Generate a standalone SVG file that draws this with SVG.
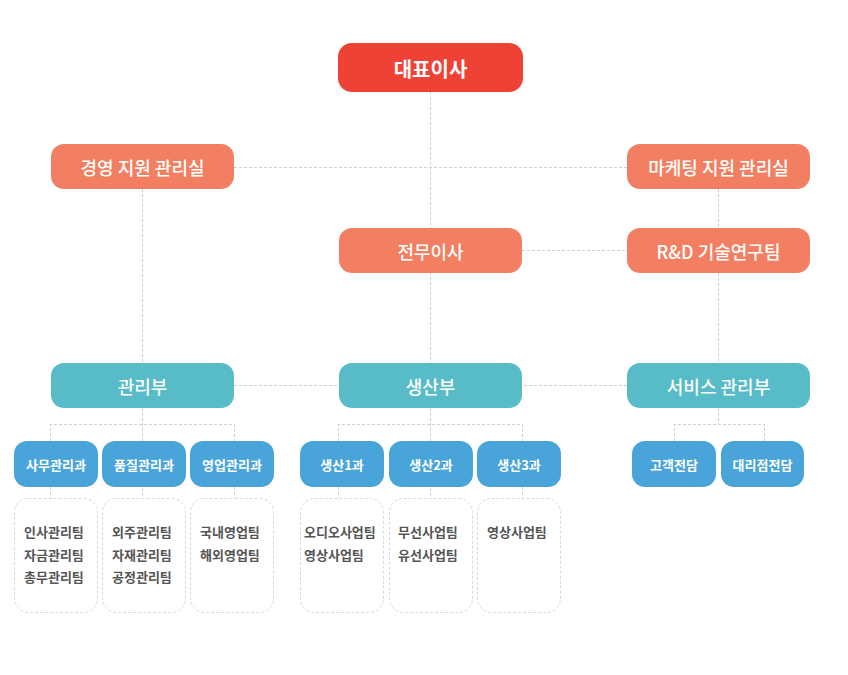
<svg xmlns="http://www.w3.org/2000/svg" width="848" height="675" viewBox="0 0 848 675">
<style>
text{font-family:"Noto Sans CJK KR","Noto Sans",sans-serif;text-anchor:middle;dominant-baseline:central}
.ceo{fill:#EF4237}
.org{fill:#F37F62}
.teal{fill:#57BCC7}
.blue{fill:#49A4DA}
.team{fill:#fff;stroke:#d9d9d9;stroke-width:1;stroke-dasharray:3 2}
.t1{fill:#fff;font-size:20px;font-weight:700}
.t2{fill:#fff;font-size:18px;font-weight:500}
.t3{fill:#fff;font-size:13px;font-weight:700}
.t4{fill:#555;font-size:13px;font-weight:700;text-anchor:start}
#connectors path{fill:none;stroke:#cfcfcf;stroke-width:1;stroke-dasharray:3 2}
</style>
<rect width="848" height="675" fill="#fff"/>
<g id="connectors">
<path d="M430.5 92V363"/>
<path d="M234 167.5H627"/>
<path d="M522 250.5H627"/>
<path d="M718.5 189V228M718.5 273V363"/>
<path d="M142.5 189V363"/>
<path d="M234 385.5H627"/>
<path d="M142.5 408V498M50.5 441V424.5H234.5V441M50.5 487V498M234.5 487V498"/>
<path d="M430.5 408V498M338.5 441V424.5H522.5V441M338.5 487V498M522.5 487V498"/>
<path d="M718.5 408V424.5M674.5 441V424.5H764.5V441"/>
</g>
<g id="n-ceo"><rect class="ceo" x="338" y="43" width="185" height="49" rx="14"/><text class="t1" x="430.5" y="68">대표이사</text></g>
<g id="n-mgmt-support"><rect class="org" x="51" y="144" width="183" height="45" rx="13"/><text class="t2" x="142.5" y="166.5">경영 지원 관리실</text></g>
<g id="n-mkt-support"><rect class="org" x="627" y="144" width="183" height="45" rx="13"/><text class="t2" x="718.5" y="166.5">마케팅 지원 관리실</text></g>
<g id="n-exec"><rect class="org" x="339" y="228" width="183" height="45" rx="13"/><text class="t2" x="430.5" y="250.5">전무이사</text></g>
<g id="n-rnd"><rect class="org" x="627" y="228" width="183" height="45" rx="13"/><text class="t2" x="718.5" y="250.5">R&amp;D 기술연구팀</text></g>
<g id="n-admin"><rect class="teal" x="51" y="363" width="183" height="45" rx="13"/><text class="t2" x="142.5" y="385.5">관리부</text></g>
<g id="n-prod"><rect class="teal" x="339" y="363" width="183" height="45" rx="13"/><text class="t2" x="430.5" y="385.5">생산부</text></g>
<g id="n-service"><rect class="teal" x="627" y="363" width="183" height="45" rx="13"/><text class="t2" x="718.5" y="385.5">서비스 관리부</text></g>

<g id="n-office"><rect class="blue" x="14" y="441" width="84" height="46" rx="13"/><text class="t3" x="56" y="464">사무관리과</text></g>
<g id="n-quality"><rect class="blue" x="102" y="441" width="84" height="46" rx="13"/><text class="t3" x="144" y="464">품질관리과</text></g>
<g id="n-sales"><rect class="blue" x="190" y="441" width="84" height="46" rx="13"/><text class="t3" x="232" y="464">영업관리과</text></g>
<g id="n-prod1"><rect class="blue" x="300" y="441" width="84" height="46" rx="13"/><text class="t3" x="342" y="464">생산1과</text></g>
<g id="n-prod2"><rect class="blue" x="389" y="441" width="84" height="46" rx="13"/><text class="t3" x="431" y="464">생산2과</text></g>
<g id="n-prod3"><rect class="blue" x="477" y="441" width="84" height="46" rx="13"/><text class="t3" x="519" y="464">생산3과</text></g>
<g id="n-customer"><rect class="blue" x="632" y="441" width="84" height="46" rx="13"/><text class="t3" x="674" y="464">고객전담</text></g>
<g id="n-agency"><rect class="blue" x="721" y="441" width="83" height="46" rx="13"/><text class="t3" x="762.5" y="464">대리점전담</text></g>

<g id="n-office-teams"><rect class="team" x="14.5" y="498.5" width="83" height="114" rx="14"/><text class="t4" x="24" y="531.5">인사관리팀</text><text class="t4" x="24" y="554">자금관리팀</text><text class="t4" x="24" y="576.5">총무관리팀</text></g>
<g id="n-quality-teams"><rect class="team" x="102.5" y="498.5" width="83" height="114" rx="14"/><text class="t4" x="112" y="531.5">외주관리팀</text><text class="t4" x="112" y="554">자재관리팀</text><text class="t4" x="112" y="576.5">공정관리팀</text></g>
<g id="n-sales-teams"><rect class="team" x="190.5" y="498.5" width="83" height="114" rx="14"/><text class="t4" x="200" y="531.5">국내영업팀</text><text class="t4" x="200" y="554">해외영업팀</text></g>
<g id="n-prod1-teams"><rect class="team" x="300.5" y="498.5" width="83" height="114" rx="14"/><text class="t4" x="304" y="531.5">오디오사업팀</text><text class="t4" x="304" y="554">영상사업팀</text></g>
<g id="n-prod2-teams"><rect class="team" x="389.5" y="498.5" width="83" height="114" rx="14"/><text class="t4" x="398" y="531.5">무선사업팀</text><text class="t4" x="398" y="554">유선사업팀</text></g>
<g id="n-prod3-teams"><rect class="team" x="477.5" y="498.5" width="83" height="114" rx="14"/><text class="t4" x="487" y="531.5">영상사업팀</text></g>
</svg>
